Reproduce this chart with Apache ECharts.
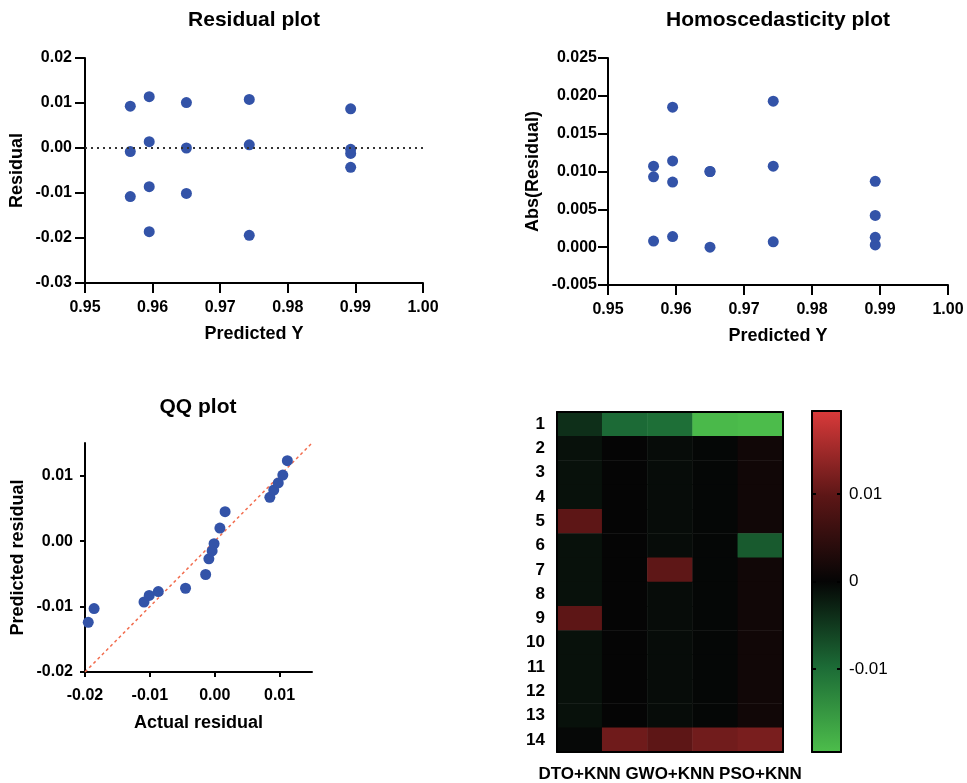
<!DOCTYPE html>
<html>
<head>
<meta charset="utf-8">
<title>Residual diagnostics</title>
<script src="https://cdn.jsdelivr.net/npm/echarts@6/dist/echarts.min.js"></script>
<style>
  html, body { margin: 0; padding: 0; background: #fff; }
  #main { width: 967px; height: 783px; }
</style>
</head>
<body>
<div id="main"></div>
<script>
// residual plot (predicted Y vs residual)
var predY = [0.9567, 0.9567, 0.9567, 0.9595, 0.9595, 0.9595, 0.9595, 0.9650, 0.9650, 0.9650,
             0.9743, 0.9743, 0.9743, 0.9893, 0.9893, 0.9893, 0.9893];
var residual = [0.0093, -0.0008, -0.0108, 0.0114, 0.0014, -0.0086, -0.0186, 0.0101, 0.0000, -0.0101,
                0.0108, 0.0007, -0.0194, 0.0087, -0.0003, -0.0012, -0.0043];
// homoscedasticity plot
var absResidual = [0.0093, 0.0008, 0.0107, 0.0114, 0.0014, 0.0086, 0.0185, 0.0100, 0.0000, 0.0100,
                   0.0107, 0.0007, 0.0193, 0.0087, 0.0003, 0.0013, 0.0042];
// QQ plot
var qqActual = [-0.0195, -0.0186, -0.0109, -0.0101, -0.0087, -0.0045, -0.0014, -0.0009, -0.0004,
                -0.0001, 0.0008, 0.0016, 0.0085, 0.0091, 0.0098, 0.0105, 0.0112];
var qqPredicted = [-0.0124, -0.0103, -0.0093, -0.0083, -0.0077, -0.0072, -0.0051, -0.0027, -0.0015,
                   -0.0004, 0.0020, 0.0045, 0.0067, 0.0078, 0.0089, 0.0101, 0.0123];
var qqRefLine = [[-0.02, -0.02], [0.015, 0.015]];
// heatmap
var heatCols = ['DTO+KNN', '', 'GWO+KNN', '', 'PSO+KNN'];
var heatRows = ['1', '2', '3', '4', '5', '6', '7', '8', '9', '10', '11', '12', '13', '14'];
var heatValues = [
  [-0.0040, -0.0097, -0.0102, -0.0190, -0.0194],
  [-0.0011, 0.0000, -0.0007, -0.0002, 0.0013],
  [-0.0011, 0.0000, -0.0007, -0.0002, 0.0013],
  [-0.0011, 0.0000, -0.0007, -0.0002, 0.0013],
  [0.0098, 0.0000, -0.0007, -0.0002, 0.0013],
  [-0.0011, 0.0000, -0.0007, -0.0002, -0.0081],
  [-0.0011, 0.0000, 0.0099, -0.0002, 0.0013],
  [-0.0011, 0.0000, -0.0007, -0.0002, 0.0013],
  [0.0098, 0.0000, -0.0007, -0.0002, 0.0013],
  [-0.0011, 0.0000, -0.0007, -0.0002, 0.0013],
  [-0.0011, 0.0000, -0.0007, -0.0002, 0.0013],
  [-0.0011, 0.0000, -0.0007, -0.0002, 0.0013],
  [-0.0011, 0.0000, -0.0007, -0.0002, 0.0013],
  [-0.0003, 0.0112, 0.0098, 0.0114, 0.0120]
];
var colorRange = [-0.0195, 0.0195];
var colorTicks = [-0.01, 0, 0.01];
var palette = ['#4dbd4b', '#1c6b36', '#050505', '#5c1616', '#d93a3a'];

var FONT = "'Liberation Sans', Arial, Helvetica, sans-serif";
var dotColor = '#3353a8';

function pts(xs, ys) {
  return xs.map(function (x, i) { return [x, ys[i]]; });
}

var heatData = [];
heatValues.forEach(function (row, r) {
  row.forEach(function (v, c) { heatData.push([c, r, v]); });
});

// colour bar gradient, red (max) at the top
var barStops = palette.map(function (c, i) {
  return { offset: 1 - i / (palette.length - 1), color: c };
}).reverse();

// common axis style
function axisBase(extra) {
  var a = {
    axisLine: { show: true, onZero: false, lineStyle: { color: '#000', width: 2 } },
    axisTick: { show: true, length: 10, lineStyle: { color: '#000', width: 2 } },
    axisLabel: { color: '#000', fontSize: 16, fontWeight: 'bold', fontFamily: FONT },
    splitLine: { show: false },
    nameLocation: 'middle',
    nameTextStyle: { color: '#000', fontSize: 18, fontWeight: 'bold', fontFamily: FONT }
  };
  for (var k in extra) {
    if (typeof extra[k] === 'object' && !Array.isArray(extra[k]) && a[k]) {
      a[k] = Object.assign({}, a[k], extra[k]);
    } else {
      a[k] = extra[k];
    }
  }
  return a;
}
function fix(n) { return function (v) { return v.toFixed(n); }; }

var borderLine = { show: true, onZero: false, lineStyle: { color: '#000', width: 2 } };
function frameAxis(extra) {
  return Object.assign({
    axisLine: borderLine, axisTick: { show: false }, axisLabel: { show: false },
    splitLine: { show: false }, z: 10
  }, extra);
}
var titleStyle = { fontSize: 21, fontWeight: 'bold', color: '#000', fontFamily: FONT };

var chart = echarts.init(document.getElementById('main'));
chart.setOption({
  animation: false,
  backgroundColor: '#fff',
  title: [
    { text: 'Residual plot', left: 254, top: 10, textAlign: 'center', padding: 0, textStyle: titleStyle },
    { text: 'Homoscedasticity plot', left: 778, top: 10, textAlign: 'center', padding: 0, textStyle: titleStyle },
    { text: 'QQ plot', left: 198, top: 397, textAlign: 'center', padding: 0, textStyle: titleStyle }
  ],
  grid: [
    { left: 85, top: 58, width: 338, height: 225 },
    { left: 608, top: 58, width: 340, height: 227 },
    { left: 85, top: 443, width: 227, height: 229 },
    { left: 557, top: 412, width: 226, height: 340 },
    { left: 812, top: 411, width: 29, height: 341, show: true, borderWidth: 0,
      backgroundColor: { type: 'linear', x: 0, y: 0, x2: 0, y2: 1, colorStops: barStops } }
  ],
  xAxis: [
    axisBase({ gridIndex: 0, type: 'value', min: 0.95, max: 1.0, interval: 0.01,
      name: 'Predicted Y', nameGap: 42, axisLabel: { margin: 17, formatter: fix(2) } }),
    axisBase({ gridIndex: 1, type: 'value', min: 0.95, max: 1.0, interval: 0.01,
      name: 'Predicted Y', nameGap: 42, axisLabel: { margin: 17, formatter: fix(2) } }),
    axisBase({ gridIndex: 2, type: 'value', min: -0.02, max: 0.015,
      name: 'Actual residual', nameGap: 42,
      axisTick: { length: 5, customValues: [-0.02, -0.01, 0, 0.01] },
      axisLabel: { margin: 16, formatter: fix(2), customValues: [-0.02, -0.01, 0, 0.01] } }),
    axisBase({ gridIndex: 3, type: 'category', data: heatCols, position: 'bottom', z: 10,
      axisTick: { show: false },
      axisLabel: { fontSize: 17, margin: 14, interval: 0 } }),
    frameAxis({ gridIndex: 3, type: 'category', data: heatCols, position: 'top' }),
    frameAxis({ gridIndex: 4, type: 'value', min: 0, max: 1, position: 'bottom' }),
    frameAxis({ gridIndex: 4, type: 'value', min: 0, max: 1, position: 'top' })
  ],
  yAxis: [
    axisBase({ gridIndex: 0, type: 'value', min: -0.03, max: 0.02, interval: 0.01,
      name: 'Residual', nameGap: 59, axisLabel: { margin: 13, formatter: fix(2) } }),
    axisBase({ gridIndex: 1, type: 'value', min: -0.005, max: 0.025, interval: 0.005,
      name: 'Abs(Residual)', nameGap: 66, axisLabel: { margin: 11, formatter: fix(3) } }),
    axisBase({ gridIndex: 2, type: 'value', min: -0.02, max: 0.015,
      name: 'Predicted residual', nameGap: 58,
      axisTick: { length: 5, customValues: [-0.02, -0.01, 0, 0.01] },
      axisLabel: { margin: 12, formatter: fix(2), customValues: [-0.02, -0.01, 0, 0.01] } }),
    axisBase({ gridIndex: 3, type: 'category', data: heatRows, inverse: true, z: 10,
      axisTick: { show: false },
      axisLabel: { fontSize: 17, margin: 12, interval: 0 } }),
    frameAxis({ gridIndex: 3, type: 'category', data: heatRows, inverse: true, position: 'right' }),
    frameAxis({ gridIndex: 4, type: 'value', min: colorRange[0], max: colorRange[1], position: 'right',
      axisTick: { show: true, inside: true, length: 4, customValues: colorTicks,
        lineStyle: { color: '#000', width: 2 } },
      axisLabel: { show: true, customValues: colorTicks, margin: 8, color: '#000',
        fontSize: 17, fontFamily: FONT,
        formatter: function (v) { return v === 0 ? '0' : v.toFixed(2); } } }),
    frameAxis({ gridIndex: 4, type: 'value', min: colorRange[0], max: colorRange[1], position: 'left',
      axisTick: { show: true, inside: true, length: 4, customValues: colorTicks,
        lineStyle: { color: '#000', width: 2 } } })
  ],
  visualMap: {
    type: 'continuous',
    show: false,
    seriesIndex: 4,
    min: colorRange[0],
    max: colorRange[1],
    inRange: { color: palette }
  },
  series: [
    {
      type: 'scatter', xAxisIndex: 0, yAxisIndex: 0, symbolSize: 11,
      itemStyle: { color: dotColor, opacity: 1 },
      data: pts(predY, residual),
      markLine: {
        silent: true, symbol: 'none', label: { show: false },
        lineStyle: { color: '#333', type: [2, 4], width: 2 },
        data: [{ yAxis: 0 }]
      }
    },
    {
      type: 'scatter', xAxisIndex: 1, yAxisIndex: 1, symbolSize: 11,
      itemStyle: { color: dotColor, opacity: 1 },
      data: pts(predY, absResidual)
    },
    {
      type: 'line', xAxisIndex: 2, yAxisIndex: 2, symbol: 'none', silent: true,
      lineStyle: { color: '#f26d4f', type: [3, 3], width: 1.5 },
      data: qqRefLine, z: 1
    },
    {
      type: 'scatter', xAxisIndex: 2, yAxisIndex: 2, symbolSize: 11,
      itemStyle: { color: dotColor, opacity: 1 },
      data: pts(qqActual, qqPredicted), z: 3
    },
    {
      type: 'heatmap', xAxisIndex: 3, yAxisIndex: 3,
      data: heatData,
      emphasis: { disabled: true }
    }
  ]
});
</script>
</body>
</html>
